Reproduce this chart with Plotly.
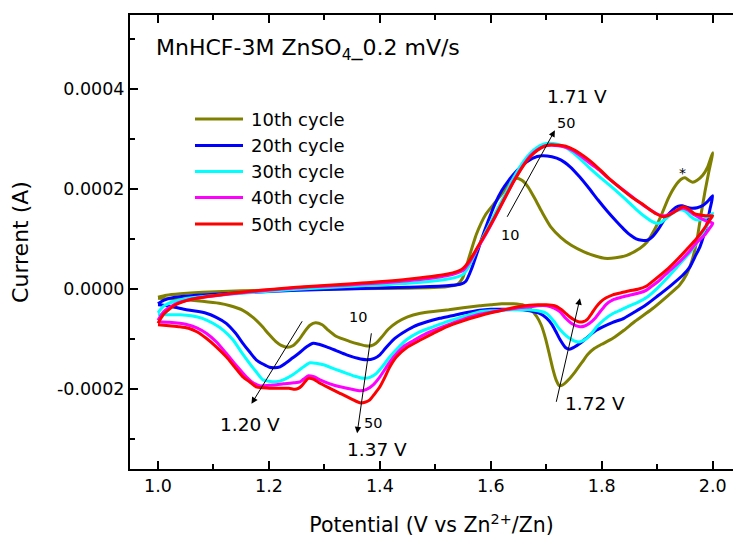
import numpy as np
import plotly.graph_objects as go

# Cyclic voltammetry of MnHCF in 3 M ZnSO4 at 0.2 mV/s.
# Each loop: anodic sweep 1.0 -> 2.0 V, then cathodic sweep 2.0 -> 1.0 V.
# Potential in V (vs Zn2+/Zn), current in microamps.

v_10 = [1.000, 1.015, 1.04, 1.08, 1.15, 1.25, 1.35, 1.45, 1.52, 1.54, 1.549, 1.557, 1.574, 1.591, 1.608,
        1.625, 1.637, 1.646, 1.656, 1.667, 1.68, 1.692, 1.708, 1.726, 1.745, 1.768, 1.79, 1.805, 1.825,
        1.845, 1.869, 1.882, 1.895, 1.908, 1.92, 1.932, 1.943, 1.950, 1.957, 1.964, 1.972, 1.982, 1.991, 2.0,
        1.993, 1.986, 1.979, 1.971, 1.962, 1.953, 1.94, 1.92, 1.89, 1.86, 1.84, 1.82, 1.80, 1.787, 1.775,
        1.765, 1.752, 1.74, 1.73, 1.724, 1.718, 1.712, 1.706, 1.699, 1.691, 1.683, 1.672, 1.66, 1.64, 1.62,
        1.60, 1.58, 1.55, 1.524, 1.50, 1.473, 1.45, 1.431, 1.415, 1.403, 1.393, 1.384, 1.374, 1.363, 1.345,
        1.321, 1.305, 1.296, 1.284, 1.274, 1.264, 1.254, 1.243, 1.233, 1.222, 1.212, 1.2, 1.186, 1.17,
        1.153, 1.13, 1.11, 1.08, 1.05, 1.02, 1.0]
i_10 = [-16, -12, -9, -6, -3, -1, 1, 2, 5, 10, 22, 50, 110, 150, 174,
        198, 214, 222, 218, 205, 180, 155, 125, 104, 88, 75, 66, 62, 63,
        68, 82, 95, 119, 150, 182, 206, 220, 223, 218, 214, 218, 228, 245, 273,
        235, 195, 150, 95, 55, 30, 8, -12, -40, -64, -82, -98, -110, -118, -130,
        -145, -165, -181, -191, -193, -182, -160, -132, -100, -72, -55, -40, -32, -29, -29,
        -31, -33, -37, -41, -44, -48, -55, -66, -80, -96, -108, -113, -113, -110, -104,
        -94, -80, -71, -67, -72, -85, -101, -113, -116, -112, -104, -90, -72, -55,
        -42, -33, -28, -24, -21, -19, -18]

v_20 = [1.0, 1.01, 1.03, 1.07, 1.15, 1.25, 1.35, 1.45, 1.52, 1.545, 1.555, 1.565, 1.575, 1.583, 1.595,
        1.608, 1.62, 1.633, 1.646, 1.659, 1.675, 1.692, 1.71, 1.726, 1.743, 1.76, 1.777, 1.793, 1.81,
        1.827, 1.84, 1.852, 1.862, 1.872, 1.882, 1.892, 1.903, 1.915, 1.928, 1.937, 1.945, 1.953, 1.962,
        1.972, 1.983, 1.992, 2.0,
        1.995, 1.99, 1.984, 1.977, 1.968, 1.959, 1.945, 1.925, 1.90, 1.88, 1.86, 1.84, 1.82, 1.80, 1.79,
        1.775, 1.761, 1.75, 1.742, 1.735, 1.725, 1.717, 1.71, 1.70, 1.688, 1.67, 1.658, 1.63, 1.60, 1.58,
        1.55, 1.53, 1.508, 1.485, 1.46, 1.44, 1.424, 1.41, 1.40, 1.39, 1.376, 1.36, 1.34, 1.32, 1.304,
        1.29, 1.28, 1.268, 1.255, 1.243, 1.23, 1.22, 1.21, 1.201, 1.19, 1.177, 1.165, 1.153, 1.14, 1.123,
        1.105, 1.087, 1.07, 1.051, 1.03, 1.01, 1.0]
i_20 = [-29, -22, -16, -12, -7, -2, 1, 4, 7, 10, 16, 40, 72, 99, 136,
        172, 198, 219, 236, 250, 262, 267, 265, 259, 245, 225, 202, 179, 156,
        135, 120, 108, 101, 98, 98, 106, 122, 143, 159, 166, 167, 164, 162,
        163, 168, 177, 187,
        160, 132, 108, 85, 65, 45, 27, 8, -14, -31, -45, -58, -66, -76, -82,
        -95, -108, -116, -120, -117, -101, -84, -70, -57, -48, -43, -41, -40, -40, -42,
        -48, -53, -58, -65, -75, -88, -101, -118, -131, -138, -141, -138, -131, -122, -115,
        -110, -108, -115, -127, -137, -148, -155, -157, -156, -150, -141, -125, -108, -88, -68,
        -56, -48, -44, -41, -36, -32, -31]

v_30 = [1.0, 1.01, 1.03, 1.06, 1.15, 1.25, 1.35, 1.45, 1.52, 1.54, 1.55, 1.56, 1.575, 1.591, 1.608,
        1.625, 1.642, 1.659, 1.672, 1.684, 1.695, 1.705, 1.72, 1.734, 1.755, 1.776, 1.793, 1.81, 1.827,
        1.844, 1.862, 1.878, 1.89, 1.899, 1.907, 1.915, 1.925, 1.935, 1.944, 1.952, 1.96, 1.968, 1.978,
        1.988, 2.0,
        1.993, 1.985, 1.975, 1.96, 1.94, 1.915, 1.90, 1.88, 1.865, 1.85, 1.835, 1.821, 1.805, 1.791, 1.782,
        1.772, 1.761, 1.752, 1.745, 1.735, 1.725, 1.713, 1.70, 1.685, 1.67, 1.64, 1.62, 1.60, 1.58, 1.55,
        1.52, 1.496, 1.47, 1.448, 1.432, 1.418, 1.405, 1.394, 1.382, 1.37, 1.355, 1.34, 1.32, 1.298,
        1.285, 1.274, 1.26, 1.243, 1.228, 1.213, 1.2, 1.189, 1.177, 1.165, 1.15, 1.135, 1.118, 1.099,
        1.08, 1.06, 1.04, 1.02, 1.0]
i_30 = [-47, -34, -24, -17, -8, 0, 6, 12, 20, 25, 30, 45, 80, 115, 152,
        188, 225, 256, 273, 284, 290, 292, 290, 284, 267, 245, 228, 212, 196,
        179, 160, 145, 136, 132, 134, 141, 150, 157, 159, 155, 146, 140, 139,
        143, 152,
        135, 118, 100, 75, 50, 19, 2, -17, -26, -33, -41, -48, -60, -75, -88,
        -99, -105, -104, -100, -92, -81, -63, -48, -43, -41, -41, -42, -43, -45, -55,
        -65, -75, -86, -101, -118, -135, -154, -168, -176, -178, -174, -168, -160, -151,
        -148, -147, -157, -171, -180, -185, -184, -181, -165, -148, -125, -101, -82, -68,
        -58, -53, -51, -51, -51]

v_40 = [1.0, 1.01, 1.03, 1.06, 1.15, 1.25, 1.35, 1.45, 1.52, 1.54, 1.55, 1.562, 1.575, 1.59, 1.608,
        1.625, 1.642, 1.659, 1.672, 1.684, 1.696, 1.708, 1.722, 1.735, 1.75, 1.765, 1.78, 1.797, 1.81,
        1.83, 1.857, 1.875, 1.89, 1.903, 1.913, 1.925, 1.937, 1.947, 1.956, 1.965, 1.975, 1.988, 2.0,
        1.993, 1.985, 1.97, 1.955, 1.94, 1.92, 1.905, 1.89, 1.88, 1.865, 1.85, 1.835, 1.82, 1.808, 1.797,
        1.788, 1.778, 1.768, 1.761, 1.752, 1.745, 1.735, 1.725, 1.713, 1.70, 1.685, 1.67, 1.645, 1.62,
        1.60, 1.58, 1.55, 1.52, 1.484, 1.46, 1.442, 1.425, 1.412, 1.40, 1.388, 1.376, 1.364, 1.35, 1.328,
        1.31, 1.292, 1.281, 1.271, 1.262, 1.256, 1.245, 1.238, 1.226, 1.214, 1.2, 1.183, 1.17, 1.159,
        1.14, 1.123, 1.105, 1.087, 1.07, 1.05, 1.039, 1.02, 1.0]
i_40 = [-62, -45, -30, -20, -7, 3, 9, 17, 27, 33, 38, 55, 80, 108, 145,
        182, 218, 249, 268, 279, 286, 288, 287, 284, 276, 264, 251, 237, 224,
        206, 183, 168, 157, 149, 147, 152, 159, 162, 158, 150, 144, 137, 132,
        120, 108, 92, 72, 55, 35, 19, 6, -2, -8, -12, -16, -21, -30, -45,
        -58, -68, -74, -75, -72, -68, -58, -45, -37, -33, -33, -35, -38, -42,
        -46, -50, -60, -72, -88, -103, -115, -135, -155, -175, -191, -200, -203, -200, -195,
        -189, -181, -175, -173, -180, -185, -187, -188, -189, -191, -192, -193, -186, -175,
        -151, -128, -105, -88, -77, -70, -68, -66, -65]

v_50 = [1.0, 1.01, 1.03, 1.06, 1.15, 1.25, 1.35, 1.45, 1.52, 1.54, 1.55, 1.562, 1.575, 1.59, 1.608,
        1.625, 1.642, 1.659, 1.672, 1.684, 1.696, 1.709, 1.722, 1.735, 1.75, 1.76, 1.78, 1.797, 1.81,
        1.83, 1.857, 1.875, 1.886, 1.898, 1.911, 1.922, 1.934, 1.947, 1.957, 1.966, 1.975, 1.987, 2.0,
        1.994, 1.985, 1.97, 1.955, 1.94, 1.92, 1.895, 1.88, 1.865, 1.85, 1.835, 1.82, 1.808, 1.798, 1.79,
        1.782, 1.774, 1.766, 1.758, 1.75, 1.742, 1.733, 1.725, 1.715, 1.70, 1.685, 1.67, 1.645, 1.62,
        1.60, 1.58, 1.55, 1.52, 1.496, 1.472, 1.448, 1.43, 1.418, 1.408, 1.40, 1.39, 1.382, 1.373, 1.364,
        1.35, 1.328, 1.31, 1.292, 1.281, 1.271, 1.265, 1.259, 1.253, 1.247, 1.236, 1.225, 1.213, 1.201,
        1.19, 1.177, 1.165, 1.153, 1.138, 1.123, 1.105, 1.087, 1.07, 1.055, 1.039, 1.02, 1.0]
i_50 = [-68, -50, -32, -20, -6, 4, 11, 20, 30, 36, 42, 58, 82, 110, 146,
        182, 217, 248, 266, 278, 286, 289, 288, 286, 279, 272, 256, 239, 225,
        206, 182, 169, 160, 151, 145, 149, 157, 165, 160, 152, 149, 147, 147,
        138, 122, 100, 82, 64, 42, 19, 6, 0, -3, -7, -11, -17, -25, -35,
        -48, -60, -65, -65, -61, -55, -46, -39, -33, -31, -31, -32, -36, -42,
        -47, -53, -63, -75, -88, -102, -117, -135, -155, -178, -195, -210, -221, -226, -227,
        -220, -208, -198, -188, -180, -178, -185, -193, -198, -200, -198, -198, -198, -198,
        -197, -195, -185, -175, -155, -135, -115, -98, -85, -78, -75, -73, -71]

cycle_names = ["10th cycle", "20th cycle", "30th cycle", "40th cycle", "50th cycle"]
cycle_colors = ["#808000", "#0000FF", "#00FFFF", "#FF00FF", "#FF0000"]
potentials = [v_10, v_20, v_30, v_40, v_50]
currents_uA = [i_10, i_20, i_30, i_40, i_50]

x_tick_vals = [1.0, 1.2, 1.4, 1.6, 1.8, 2.0]
x_tick_text = ["1.0", "1.2", "1.4", "1.6", "1.8", "2.0"]
y_tick_vals = [-0.0002, 0.0, 0.0002, 0.0004]
y_tick_text = ["-0.0002", "0.0000", "0.0002", "0.0004"]

FONT = "DejaVu Sans"
W, H = 733, 539
ML, MR, MT, MB = 130, 0, 15, 70


def paper_x(px):
    return (px - ML) / (W - ML - MR)


def paper_y(py):
    return (H - MB - py) / (H - MT - MB)


fig = go.Figure()
for name, color, v, i in zip(cycle_names, cycle_colors, potentials, currents_uA):
    fig.add_trace(go.Scatter(
        x=v, y=np.asarray(i, dtype=float) * 1e-6, mode="lines", name=name,
        line=dict(color=color, width=3, shape="spline", smoothing=0.6),
        showlegend=False,
    ))

# legend drawn as line samples with labels
legend_rows = [119, 145.5, 171.5, 197.5, 224]
for name, color, row in zip(cycle_names, cycle_colors, legend_rows):
    fig.add_shape(type="line", xref="paper", yref="paper",
                  x0=paper_x(195), x1=paper_x(243), y0=paper_y(row), y1=paper_y(row),
                  line=dict(color=color, width=3))
    fig.add_annotation(xref="paper", yref="paper", x=paper_x(249), y=paper_y(row),
                       text=name, showarrow=False, xanchor="left", yanchor="middle",
                       font=dict(family=FONT, size=18, color="black"))

# plot title inside the frame
fig.add_annotation(xref="paper", yref="paper", x=paper_x(154), y=paper_y(49),
                   text="MnHCF-3M ZnSO<sub>4</sub>_0.2 mV/s", showarrow=False,
                   xanchor="left", yanchor="middle",
                   font=dict(family=FONT, size=22, color="black"))

# peak-evolution arrows (tail at 10th cycle, head toward 50th cycle)
arrows = [
    (1.628, 142e-6, 1.7155, 318e-6),
    (1.2615, -61e-6, 1.1685, -229e-6),
    (1.385, -85e-6, 1.359, -288e-6),
    (1.7174, -228e-6, 1.7607, -18e-6),
]
for x0, y0, x1, y1 in arrows:
    fig.add_annotation(x=x1, y=y1, ax=x0, ay=y0, xref="x", yref="y", axref="x", ayref="y",
                       text="", showarrow=True, arrowhead=2, arrowsize=1.3, arrowwidth=1,
                       arrowcolor="black")

labels = [
    ("1.71 V", 1.755, 385e-6, 18.5),
    ("50", 1.736, 332e-6, 14.5),
    ("10", 1.634, 108e-6, 14.5),
    ("*", 1.946, 232e-6, 14),
    ("1.20 V", 1.1655, -271e-6, 18.5),
    ("10", 1.361, -55e-6, 14.5),
    ("50", 1.388, -268e-6, 14.5),
    ("1.37 V", 1.394, -321e-6, 18.5),
    ("1.72 V", 1.788, -228e-6, 18.5),
]
for text, x, y, size in labels:
    fig.add_annotation(x=x, y=y, xref="x", yref="y", text=text, showarrow=False,
                       xanchor="center", yanchor="middle",
                       font=dict(family=FONT, size=size, color="black"))

axis_common = dict(
    showline=True, linecolor="black", linewidth=2, showgrid=False, zeroline=False,
    ticks="inside", ticklen=8, tickwidth=1.5, tickcolor="black",
    tickfont=dict(family=FONT, size=17.5, color="black"),
)

fig.update_xaxes(
    range=[0.9495, 2.0366], tickmode="array", tickvals=x_tick_vals, ticktext=x_tick_text,
    mirror="ticks",
    minor=dict(ticks="inside", ticklen=5, tickwidth=1.5, tickcolor="black", tickmode="linear",
               tick0=1.0, dtick=0.1),
    title=dict(text="Potential (V vs Zn<sup>2+</sup>/Zn)", standoff=23,
               font=dict(family=FONT, size=20.5, color="black")),
    **axis_common,
)
fig.update_yaxes(
    range=[-0.0003594, 0.0005486], tickmode="array", tickvals=y_tick_vals, ticktext=y_tick_text,
    mirror=False,
    minor=dict(ticks="inside", ticklen=5, tickwidth=1.5, tickcolor="black", tickmode="linear",
               tick0=0.0, dtick=0.0001),
    title=dict(text="Current (A)", standoff=22,
               font=dict(family=FONT, size=22, color="black")),
    **axis_common,
)

fig.update_layout(
    width=W, height=H, margin=dict(l=ML, r=MR, t=MT, b=MB, pad=0),
    paper_bgcolor="white", plot_bgcolor="white", showlegend=False,
)

fig.write_html("out.html")
